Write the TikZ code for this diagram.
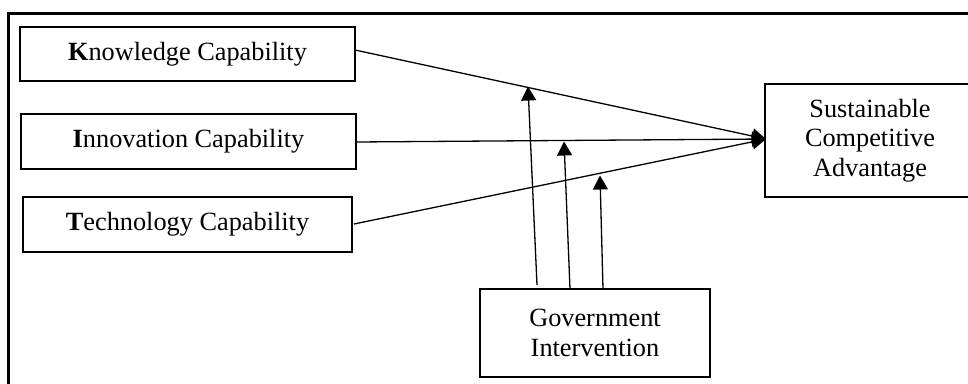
\documentclass[tikz,border=0pt]{standalone}
\usepackage{fontspec}
\setmainfont{Liberation Serif}
\usetikzlibrary{arrows.meta}
\tikzset{
  box/.style={draw, line width=1.3pt, rectangle, inner sep=0pt, align=center,
    font=\fontsize{26.3}{29.5}\selectfont},
  conn/.style={line width=1.3pt, -{Triangle[length=14pt,width=15pt]}},
}
\begin{document}
\begin{tikzpicture}[x=1pt,y=-1pt]
\useasboundingbox (0,0) rectangle (968,383);
\clip (0,0) rectangle (968,383);
\draw[line width=2.6pt] (8.5,13.5) rectangle (1000,420);
\node[box, minimum width=335pt, minimum height=54pt] (kc) at (187.5,54) {\textbf{K}nowledge Capability};
\node[box, minimum width=335pt, minimum height=55pt] (ic) at (188.5,141.5) {\textbf{I}nnovation Capability};
\node[box, minimum width=329pt, minimum height=55pt] (tc) at (187.5,224.5) {\textbf{T}echnology Capability};
\node[box, minimum width=210pt, minimum height=113pt] (sca) at (870,140.5) {Sustainable\\Competitive\\Advantage};
\node[box, minimum width=230pt, minimum height=88pt] (gi) at (595,333) {Government\\Intervention};
\coordinate (k0) at (355,50);
\coordinate (i0) at (356,142);
\coordinate (t0) at (354,224);
\coordinate (tip) at (766,139);
\draw[conn] (k0) -- (tip);
\draw[conn] (i0) -- (tip);
\draw[conn] (t0) -- (tip);
\coordinate (a1s) at (537,285);
\coordinate (a1e) at (528,86.5);
\coordinate (a2s) at (570,289);
\coordinate (a2e) at (564,141.5);
\coordinate (a3s) at (603,289);
\coordinate (a3e) at (600,175.5);
\draw[conn] (a1s) -- (a1e);
\draw[conn] (a2s) -- (a2e);
\draw[conn] (a3s) -- (a3e);
\end{tikzpicture}
\end{document}
